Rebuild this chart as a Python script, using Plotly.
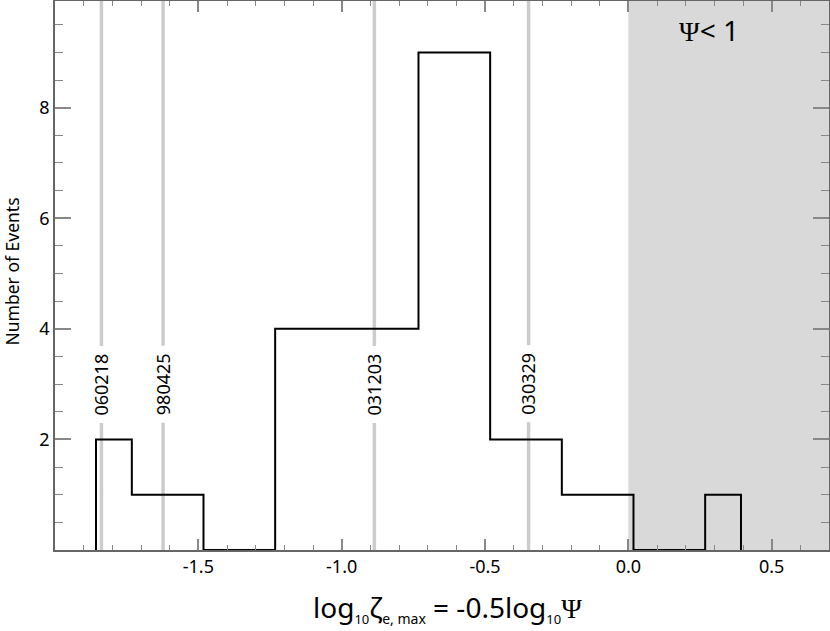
import plotly.graph_objects as go

# Histogram outline (level-change edges and counts)
bin_edges = [-1.857, -1.732, -1.482, -1.232, -0.732, -0.482, -0.232, 0.018, 0.268, 0.393]
bin_counts = [2, 1, 0, 4, 9, 2, 1, 0, 1]

# Marked events
event_names = ["060218", "980425", "031203", "030329"]
event_x = [-1.838, -1.623, -0.886, -0.348]
label_y = 3.0

# Shaded region Psi < 1  (x > 0)
shade_x0 = 0.0
x_range = [-2.0, 0.7]
y_range = [0, 9.93]

x_ticks = [-1.5, -1.0, -0.5, 0.0, 0.5]
x_ticklabels = ["-1.5", "-1.0", "-0.5", "0.0", "0.5"]
y_ticks = [2, 4, 6, 8]
y_ticklabels = ["2", "4", "6", "8"]

FONT = "Noto Sans"

# build step outline points
xs = [bin_edges[0]]
ys = [0]
for e, c in zip(bin_edges[:-1], bin_counts):
    xs.append(e)
    ys.append(c)
xs.append(bin_edges[-1])
ys.append(bin_counts[-1])
xs.append(bin_edges[-1])
ys.append(0)

fig = go.Figure()

fig.add_trace(go.Scatter(
    x=xs, y=ys, mode="lines", line=dict(color="black", width=2, shape="hv"),
    cliponaxis=False, showlegend=False, hoverinfo="skip"))

shapes = [dict(type="rect", xref="x", yref="paper", x0=shade_x0, x1=x_range[1],
               y0=0, y1=1, fillcolor="#d9d9d9", line=dict(width=0), layer="below")]
for ex in event_x:
    shapes.append(dict(type="line", xref="x", yref="paper", x0=ex, x1=ex, y0=0, y1=1,
                       line=dict(color="#cccccc", width=3.5), layer="below"))

annotations = []
for name, ex in zip(event_names, event_x):
    annotations.append(dict(x=ex, y=label_y, xref="x", yref="y", text=name,
                            textangle=-90, showarrow=False, bgcolor="white",
                            borderpad=7, font=dict(family=FONT, size=18, color="black")))

annotations.append(dict(
    x=(709 - 55) / 774, y=(550 - 30) / 549, xref="paper", yref="paper",
    text="<span style='font-family:Liberation Serif'>Ψ</span>&lt; 1",
    showarrow=False, xanchor="center", yanchor="middle",
    font=dict(family=FONT, size=28, color="black")))

annotations.append(dict(
    x=(447 - 55) / 774, y=-(608 - 550) / 549, xref="paper", yref="paper",
    text="log<sub><span style='font-size:13px'>10</span></sub>ζ<sub><span style='font-size:14px'>e, max</span></sub> = -0.5log<sub><span style='font-size:13px'>10</span></sub><span style='font-family:Liberation Serif'>Ψ</span>",
    showarrow=False, yanchor="middle", xanchor="center",
    font=dict(family=FONT, size=28, color="black")))

annotations.append(dict(
    x=-(55 - 11.5) / 774, y=(550 - 272) / 549, xref="paper", yref="paper",
    text="Number of Events", textangle=-90, showarrow=False,
    xanchor="center", yanchor="middle",
    font=dict(family=FONT, size=17.5, color="black")))

fig.update_layout(
    width=830, height=631,
    margin=dict(l=55, r=1, t=1, b=81, autoexpand=False),
    plot_bgcolor="white", paper_bgcolor="white",
    shapes=shapes, annotations=annotations,
    font=dict(family=FONT, size=18, color="black"),
)

fig.update_xaxes(
    range=x_range, tickmode="array", tickvals=x_ticks, ticktext=x_ticklabels,
    ticks="inside", ticklen=11, tickwidth=1.5, tickcolor="#888888",
    minor=dict(tickmode="linear", tick0=0, dtick=0.1, ticks="inside", ticklen=5,
               tickwidth=1.2, tickcolor="#888888", showgrid=False),
    showline=True, linecolor="#666666", linewidth=1.5, mirror="ticks",
    showgrid=False, zeroline=False, automargin=False,
    tickfont=dict(family=FONT, size=18, color="black"),
)
fig.update_yaxes(
    range=y_range, tickmode="array", tickvals=y_ticks, ticktext=y_ticklabels,
    ticks="inside", ticklen=16, tickwidth=1.5, tickcolor="#888888",
    minor=dict(tickmode="linear", tick0=0, dtick=0.5, ticks="inside", ticklen=8,
               tickwidth=1.2, tickcolor="#888888", showgrid=False),
    showline=True, linecolor="#666666", linewidth=1.5, mirror="ticks",
    showgrid=False, zeroline=False, automargin=False,
    tickfont=dict(family=FONT, size=18, color="black"),
)

fig.write_html("out.html", config={"displayModeBar": False},
               post_script="document.body.style.margin='0';document.body.style.overflow='hidden';")
